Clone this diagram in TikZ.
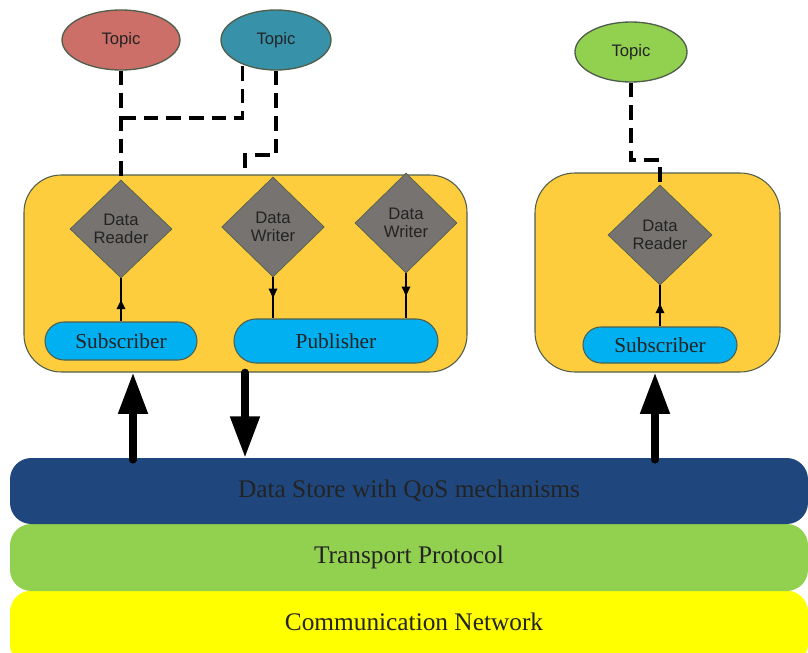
\documentclass[tikz,border=0pt]{standalone}
\usepackage{fontspec}
\setmainfont{Liberation Serif}
\newfontfamily\arialf{Liberation Sans}
\usetikzlibrary{shapes.geometric,shapes.misc,arrows.meta,decorations.markings}
\definecolor{boxyellow}{RGB}{254,205,62}
\definecolor{boxedge}{RGB}{80,95,75}
\definecolor{diagray}{RGB}{118,115,113}
\definecolor{subblue}{RGB}{0,176,240}
\definecolor{dsblue}{RGB}{31,71,125}
\definecolor{tpgreen}{RGB}{146,208,80}
\definecolor{cnyellow}{RGB}{255,255,0}
\definecolor{topred}{RGB}{205,111,105}
\definecolor{topteal}{RGB}{54,145,169}
\definecolor{topgreen}{RGB}{146,208,80}
\definecolor{txtdark}{RGB}{35,35,35}
\begin{document}
\begin{tikzpicture}[x=0.75pt,y=-0.75pt,
  topic/.style={ellipse,draw=boxedge,line width=1pt,inner sep=0pt,minimum height=45pt,
    font=\arialf\fontsize{12.5}{14}\selectfont,text=txtdark},
  container/.style={draw=boxedge,line width=0.8pt,fill=boxyellow,rounded corners=28pt,inner sep=0pt},
  dnode/.style={diamond,draw=boxedge,line width=0.5pt,fill=diagray,inner sep=0pt,aspect=1,
    align=center,text=txtdark,font=\arialf\fontsize{12.5}{14}\selectfont},
  pubsub/.style={rounded rectangle,draw=boxedge,line width=0.8pt,fill=subblue,inner sep=0pt,
    font=\fontsize{16}{18}\selectfont,text=txtdark},
  layer/.style={rounded corners=16pt,inner sep=0pt,minimum width=598.5pt,
    font=\fontsize{19}{21}\selectfont,text=txtdark},
  dashline/.style={draw=black,line width=2.4pt,dash pattern=on 11pt off 6pt},
  thinarrow/.style={line width=1.1pt,postaction={decorate},
    decoration={markings,mark=at position #1 with {\arrow{Triangle[width=6.5pt,length=7pt]}}}},
  bigarrow/.style={line width=5.8pt,line cap=round,-{Triangle[width=21pt,length=31pt]}}
]
\useasboundingbox (0,0) rectangle (808,653);
\clip (0,0) rectangle (808,653);
\fill[white] (0,0) rectangle (808,653);

% layers
\node[layer,fill=cnyellow,minimum height=56pt] (cn) at (409,628) {};
\node[text=txtdark,font=\fontsize{19}{21}\selectfont] (cnt) at (414,622) {Communication Network};
\node[layer,fill=tpgreen,minimum height=50.25pt] (tp) at (409,557.5) {Transport Protocol};
\node[layer,fill=dsblue,minimum height=49.5pt] (ds) at (409,491) {Data Store with QoS mechanisms};

% containers
\node[container,minimum width=332.25pt,minimum height=147.75pt] (box1) at (245.5,273.5) {};
\node[container,minimum width=183.75pt,minimum height=149.25pt,rounded corners=30pt] (box2) at (657.5,272.5) {};

% diamonds
\node[dnode,minimum width=76.5pt,minimum height=73.5pt] (dr1) at (121,229) {Data\\Reader};
\node[dnode,minimum width=77pt,minimum height=75pt] (dw1) at (273,227) {Data\\Writer};
\node[dnode,minimum width=76.5pt,minimum height=75pt] (dw2) at (406,223) {Data\\Writer};
\node[dnode,minimum width=78pt,minimum height=75pt] (dr2) at (660,235) {Data\\Reader};

% subscriber / publisher
\node[pubsub,minimum width=114pt,minimum height=28.5pt] (sub1) at (121,341) {Subscriber};
\node[pubsub,minimum width=153pt,minimum height=33pt] (pub1) at (336,341) {Publisher};
\node[pubsub,minimum width=115.5pt,minimum height=27pt] (sub2) at (660,345) {Subscriber};

% topics
\node[topic,fill=topred,minimum width=88.5pt] (t1) at (121,40) {Topic};
\node[topic,fill=topteal,minimum width=82.5pt] (t2) at (276,40) {Topic};
\node[topic,fill=topgreen,minimum width=84pt] (t3) at (631,52) {Topic};

% junction coordinates
\coordinate (j1) at (121,118);
\coordinate (j2) at (245,155);
\coordinate (j3) at (660,160);

% dashed topic links
\draw[dashline] (t1.south) -- (dr1.north);
\draw[dashline] (j1) -| (t2.216);
\draw[dashline] (t2.south) |- (j2) -- (j2 |- box1.north);
\draw[dashline] (t3.south) |- (j3) -- (dr2.north);

% thin internal arrows
\draw[thinarrow=0.5] (sub1.north) -- (dr1.south);
\draw[thinarrow=0.5] (dw1.south) -- (dw1.south |- pub1.north);
\draw[thinarrow=0.5] (dw2.south) -- (dw2.south |- pub1.north);
\draw[thinarrow=0.55] (sub2.north) -- (dr2.south);

% big arrows
\coordinate (a1) at (133,0);
\coordinate (a2) at (245,0);
\coordinate (a3) at (655,0);
\draw[bigarrow] (ds.north -| a1) ++(0,2) -- (box1.south -| a1);
\draw[bigarrow] (box1.south -| a2) -- (ds.north -| a2);
\draw[bigarrow] (ds.north -| a3) ++(0,2) -- (box2.south -| a3);
\end{tikzpicture}
\end{document}
